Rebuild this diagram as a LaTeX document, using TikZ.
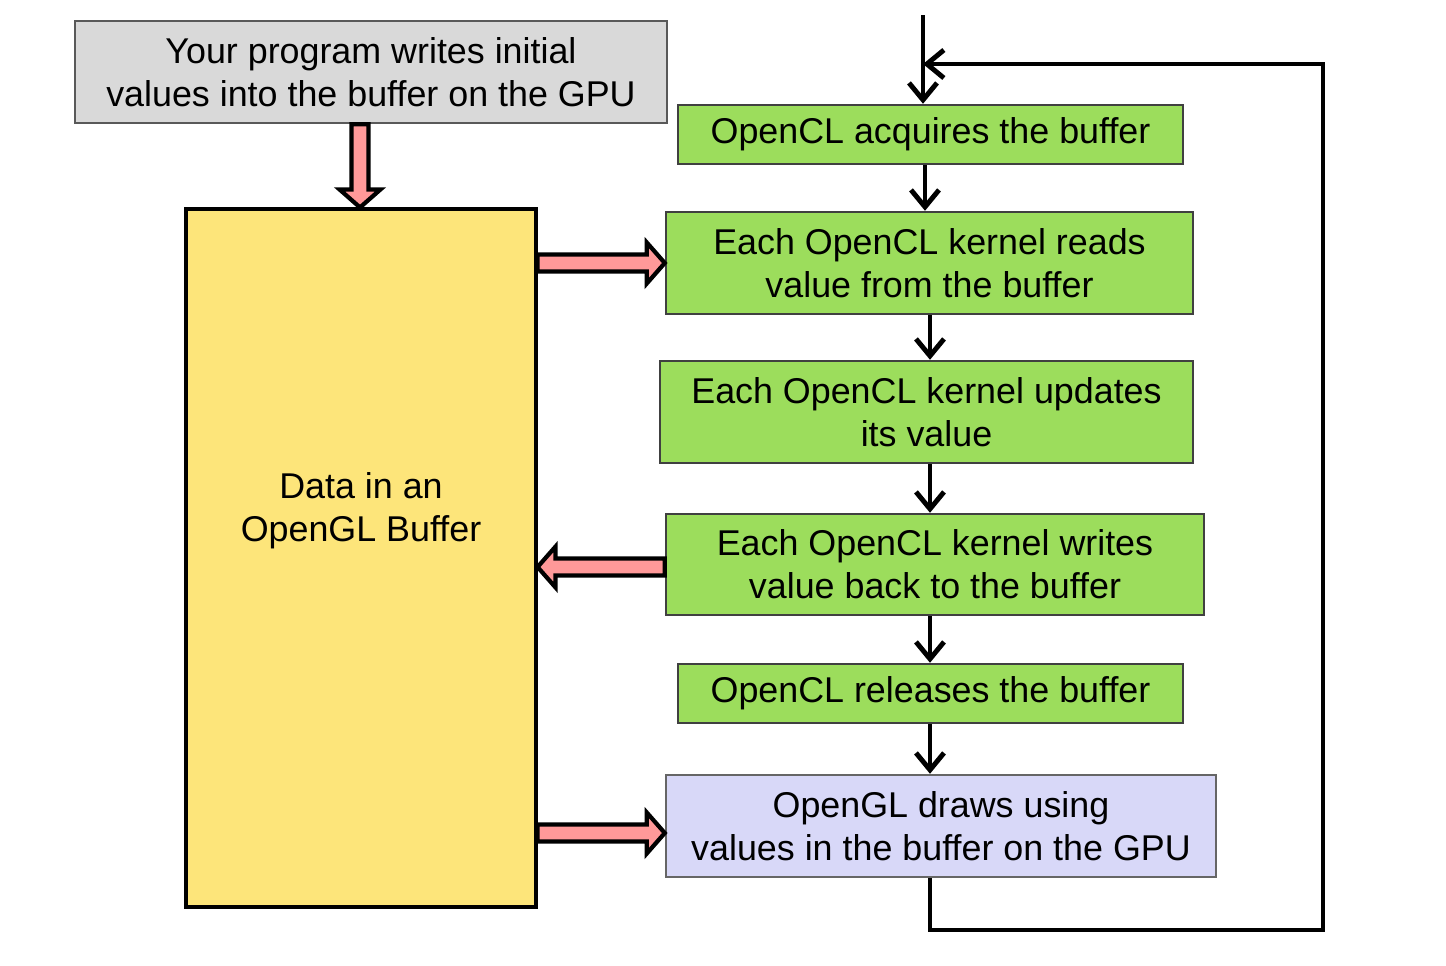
\documentclass[tikz,border=0pt]{standalone}
\usepackage{fontspec}
\setmainfont{Liberation Sans}
\usetikzlibrary{arrows.meta,calc}

\definecolor{grayfill}{HTML}{D9D9D9}
\definecolor{yellowfill}{HTML}{FDE57A}
\definecolor{greenfill}{HTML}{9CDD5C}
\definecolor{bluefill}{HTML}{D8D8F8}
\definecolor{pinkfill}{HTML}{FF9999}

\tikzset{
    box/.style={draw, line width=1.4pt, align=center, inner sep=0pt,
        font=\fontsize{20.4}{24.5}\selectfont},
    graybox/.style={box, draw=black!65, fill=grayfill},
    greenbox/.style={box, draw=black!75, fill=greenfill},
    bluebox/.style={box, draw=black!60, fill=bluefill},
    flow/.style={line width=2.8pt, -{Straight Barb[length=3.4mm, width=5.6mm, line width=2.8pt]}},
    fatarrow/.style={draw=black, line width=2.4pt, fill=pinkfill, line join=miter,
        to path={let \p1=(\tikztostart), \p2=(\tikztotarget),
            \n1={atan2(\y2-\y1,\x2-\x1)} in
            ($(\p1)+(\n1+90:0.17)$) -- ($(\p2)+(\n1+180:0.36)+(\n1+90:0.17)$)
            -- ($(\p2)+(\n1+180:0.36)+(\n1+90:0.41)$) -- (\p2)
            -- ($(\p2)+(\n1+180:0.36)+(\n1-90:0.41)$)
            -- ($(\p2)+(\n1+180:0.36)+(\n1-90:0.17)$)
            -- ($(\p1)+(\n1-90:0.17)$) -- cycle}}
}

\begin{document}
\begin{tikzpicture}
    \useasboundingbox (0,0) rectangle (28.92,-19.3);

    % Host side and the shared buffer
    \node[graybox, minimum width=11.84cm, minimum height=2.04cm] (init) at (7.42,-1.44)
        {Your program writes initial\\values into the buffer on the GPU};
    \node[draw, line width=1.8pt, fill=yellowfill, minimum width=7cm, minimum height=13.96cm,
        label={[align=center, font=\fontsize{20.4}{24.5}\selectfont, yshift=0.95cm]center:Data in an\\OpenGL Buffer}]
        (buffer) at (7.22,-11.16) {};

    % Steps on the GPU
    \node[greenbox, minimum width=10.1cm, minimum height=1.18cm] (acquire) at (18.61,-2.69)
        {OpenCL acquires the buffer};
    \node[greenbox, minimum width=10.54cm, minimum height=2.04cm] (reads) at (18.59,-5.26)
        {Each OpenCL kernel reads\\value from the buffer};
    \node[greenbox, minimum width=10.66cm, minimum height=2.04cm] (updates) at (18.53,-8.24)
        {Each OpenCL kernel updates\\its value};
    \node[greenbox, minimum width=10.76cm, minimum height=2.02cm] (writes) at (18.7,-11.29)
        {Each OpenCL kernel writes\\value back to the buffer};
    \node[greenbox, minimum width=10.1cm, minimum height=1.18cm] (release) at (18.61,-13.87)
        {OpenCL releases the buffer};
    \node[bluebox, minimum width=11cm, minimum height=2.04cm] (draws) at (18.82,-16.52)
        {OpenGL draws using\\values in the buffer on the GPU};

    \coordinate (top) at (18.46,-0.3);
    \coordinate (spine) at (18.6,0);
    \coordinate (loopbr) at (26.46,-18.6);
    \coordinate (looptr) at (26.46,-1.28);

    % Control flow
    \draw[flow] (top) -- (acquire.north -| top);
    \draw[flow] (acquire.south -| 18.5,0) -- (reads.north -| 18.5,0);
    \draw[flow] (reads.south -| spine) -- (updates.north -| spine);
    \draw[flow] (updates.south -| spine) -- (writes.north -| spine);
    \draw[flow] (writes.south -| spine) -- (release.north -| spine);
    \draw[flow] (release.south -| spine) -- (draws.north -| spine);
    \draw[flow] (draws.south -| spine) |- (loopbr) -- (looptr) -- (looptr -| top);

    % Data movement
    \draw[fatarrow] (init.south -| 7.2,0) to (buffer.north -| 7.2,0);
    \draw[fatarrow] (buffer.east |- reads.west) to (reads.west);
    \draw[fatarrow] ($(writes.west)+(0,-0.05)$) to ($(buffer.east |- writes.west)+(0,-0.05)$);
    \draw[fatarrow] ($(buffer.east |- draws.west)+(0,-0.14)$) to ($(draws.west)+(0,-0.14)$);
\end{tikzpicture}
\end{document}
